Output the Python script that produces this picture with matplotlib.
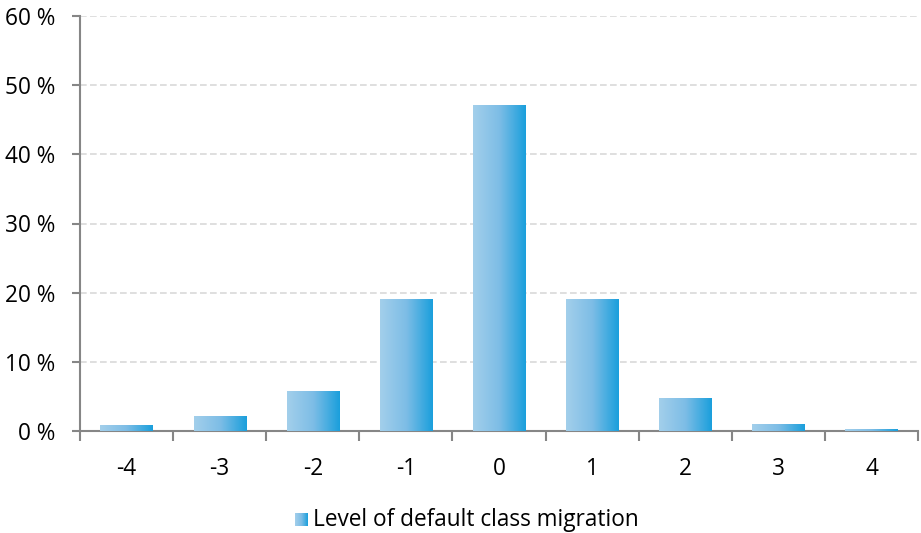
import matplotlib
matplotlib.use("Agg")
import matplotlib.pyplot as plt
import numpy as np
from matplotlib.colors import LinearSegmentedColormap

categories = ["-4", "-3", "-2", "-1", "0", "1", "2", "3", "4"]
values = [0.9, 2.2, 5.8, 19.1, 47.1, 19.1, 4.8, 1.05, 0.25]
yticks = [0, 10, 20, 30, 40, 50, 60]
legend_label = "Level of default class migration"

plt.rcParams['font.family'] = ['Open Sans', 'DejaVu Sans']
W, H = 921, 533
fig = plt.figure(figsize=(W/100, H/100), dpi=100)
ax = fig.add_axes([80/W, 1-431/H, (918-80)/W, (431-16)/H])

cmap = LinearSegmentedColormap.from_list("g", ["#a3cfeb", "#7dbde6", "#1a9fdc"])
grad = np.linspace(0, 1, 256).reshape(1, -1)

x = np.arange(len(categories))
bw = 0.56
bars = ax.bar(x, values, width=bw, color="none", edgecolor="none", zorder=3)
for b in bars:
    x0, y0 = b.get_x(), b.get_y()
    w, h = b.get_width(), b.get_height()
    im = ax.imshow(grad, cmap=cmap, aspect="auto", extent=[x0, x0+w, y0, y0+h],
                   zorder=3, interpolation="bilinear")
    im.set_clip_path(b)

fs = 16.3
ax.set_xlim(-0.5, len(categories)-0.5)
ax.set_ylim(0, 60)
ax.set_yticks(yticks)
ax.set_yticklabels([f"{t} %" for t in yticks], fontsize=fs)
ax.set_xticks(x)
ax.set_xticklabels(categories, fontsize=fs)
ax.tick_params(axis='x', length=0, pad=19)
ax.set_xticks(np.arange(-0.5, len(categories)), minor=True)
ax.tick_params(axis='x', which='minor', length=7, width=1.5, color="#868686", direction="out")
ax.tick_params(axis='y', length=6, width=1.5, color="#868686", pad=12)

for s in ["top", "right"]:
    ax.spines[s].set_visible(False)
for s in ["left", "bottom"]:
    ax.spines[s].set_color("#868686")
    ax.spines[s].set_linewidth(1.5)
ax.yaxis.grid(True, color="#d9d9d9", linestyle=(0, (4, 2)), linewidth=1.2, zorder=0)
ax.set_axisbelow(True)

# legend
lx, ly = 295/W, 1-526/H
lax = fig.add_axes([lx, ly, 13/W, 13/H])
lax.imshow(grad, cmap=cmap, aspect="auto")
lax.axis("off")
fig.text(313/W, 1-520/H, legend_label, fontsize=fs, va="center", ha="left")

fig.savefig("out.png", dpi=100)
